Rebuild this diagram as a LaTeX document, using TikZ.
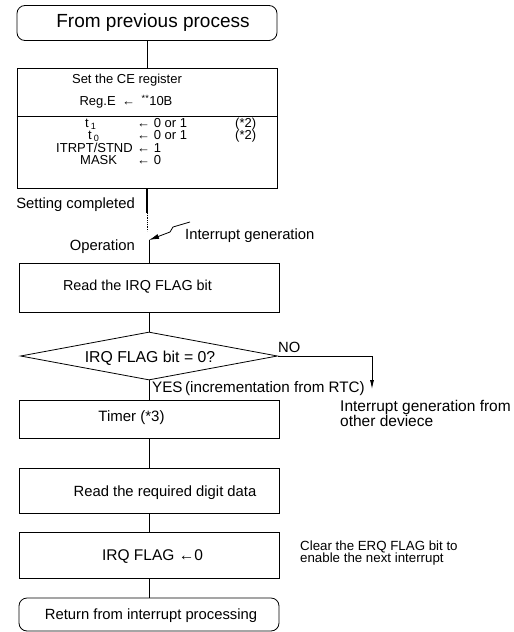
\documentclass[tikz,border=0pt]{standalone}
\usepackage{fontspec}
\setmainfont{Liberation Sans}
\usetikzlibrary{arrows.meta,shapes.geometric,positioning,calc}

\newcommand{\fsz}[1]{\fontsize{#1}{#1}\selectfont}

\begin{document}
\begin{tikzpicture}[x=1pt, y=-1pt,
    stepbox/.style={draw, thick, minimum width=260pt, inner sep=0pt},
    term/.style={stepbox, rounded corners=8pt},
    txt/.style={inner sep=0pt, font=\fsz{14.8}},
    regtxt/.style={inner sep=0pt, font=\fsz{13}, anchor=base west},
    arr/.style={-{Latex[length=9pt,width=4pt]}, thick},
    line/.style={line width=1pt}
]
\useasboundingbox (0,0) rectangle (514,632);

% process boxes
\node[term, minimum height=35pt] (prev) at (147,23) {};
\node[stepbox, minimum height=120pt] (setce) at (147,128) {};
\node[stepbox, minimum height=49pt] (readirq) at (149,287.5) {};
\node[draw, thick, diamond, aspect=5, inner sep=0pt, minimum width=257pt, minimum height=48pt] (flag) at (149,356) {};
\node[stepbox, minimum height=38pt] (timer) at (149,419) {};
\node[stepbox, minimum height=45pt] (digit) at (149,490.5) {};
\node[stepbox, minimum height=46pt] (clear) at (149,555) {};
\node[term, minimum height=33pt] (ret) at (149,614.5) {};

% texts in the boxes
\node[txt, font=\fsz{19}] (prevtxt) at (153,23) {From previous process};
\node[txt, font=\fsz{14.4}] (readtxt) at (137.5,287) {Read the IRQ FLAG bit};
\node[txt, font=\fsz{15.8}] (flagtxt) at (150,358) {IRQ FLAG bit = 0?};
\node[txt, font=\fsz{15}] (timertxt) at (131.5,418) {Timer (*3)};
\node[txt] (digittxt) at (165,493) {Read the required digit data};
\node[txt, font=\fsz{15.5}] (cleartxt) at (152.5,557) {IRQ FLAG ←0};
\node[txt] (rettxt) at (151,616) {Return from interrupt processing};

% contents of the CE register box
\node[txt, font=\fsz{13}] (cehead) at (127,80) {Set the CE register};
\node[txt, font=\fsz{13}] (rege) at (126,102) {Reg.E\enspace ←\enspace\textsuperscript{**}10B};
\draw[thick] (setce.west |- 0,116) -- (setce.east |- 0,116);
\node[regtxt] (tone) at (85,127) {t\,\textsubscript{1}};
\node[regtxt] (tzero) at (88,139) {t\,\textsubscript{0}};
\node[regtxt] (itrpt) at (56,152) {ITRPT/STND};
\node[regtxt] (mask) at (80,164) {MASK};
\node[regtxt] (vone) at (137,127) {← 0 or 1};
\node[regtxt] (vzero) at (137,139) {← 0 or 1};
\node[regtxt] (vitrpt) at (137,152) {← 1};
\node[regtxt] (vmask) at (137,164) {← 0};
\node[regtxt] (nbone) at (235,127) {(*2)};
\node[regtxt] (nbzero) at (235,139) {(*2)};

% labels
\node[txt, anchor=east] (setdone) at (135,205) {Setting completed};
\node[txt, anchor=east] (oper) at (135,247) {Operation};
\node[txt, anchor=west] (intgen) at (185,236) {Interrupt generation};
\node[txt, anchor=south west] (nolbl) at (278,353) {NO};
\node[txt, font=\fsz{15.2}, anchor=north west] (yeslbl) at (152,381) {YES\,(incrementation from RTC)};
\node[txt, font=\fsz{15.5}, anchor=north west, align=left] (other) at (340,400) {Interrupt generation from\\other deviece};
\node[txt, font=\fsz{13.3}, anchor=west, align=left] (clrnote) at (300,553) {Clear the ERQ FLAG bit to\\[-1pt]enable the next interrupt};

\coordinate (ceout) at (147,188);
\coordinate (dotA) at (147,213);
\coordinate (opin) at (149,240);
\coordinate (bolt) at (190,222);
\coordinate (nox) at (372,389);

% connectors
\draw[line] (prev) -- (setce);
\draw[draw=black, line width=1.2pt] (ceout) -- (dotA);
\draw[thick, densely dotted] (dotA) -- ++(0,18);
\draw[line] (opin) -- (readirq);
\draw[-{Latex[length=10pt,width=5pt]}, thick] (bolt) -- (173,227) -- (170,232) -- (opin);
\draw[line] (readirq) -- (flag);
\draw[line] (flag) -- (timer);
\draw[arr] (flag.east) -| (nox);
\draw[line] (timer) -- (digit);
\draw[line] (digit) -- (clear);
\draw[line] (clear) -- (ret);
\end{tikzpicture}
\end{document}
